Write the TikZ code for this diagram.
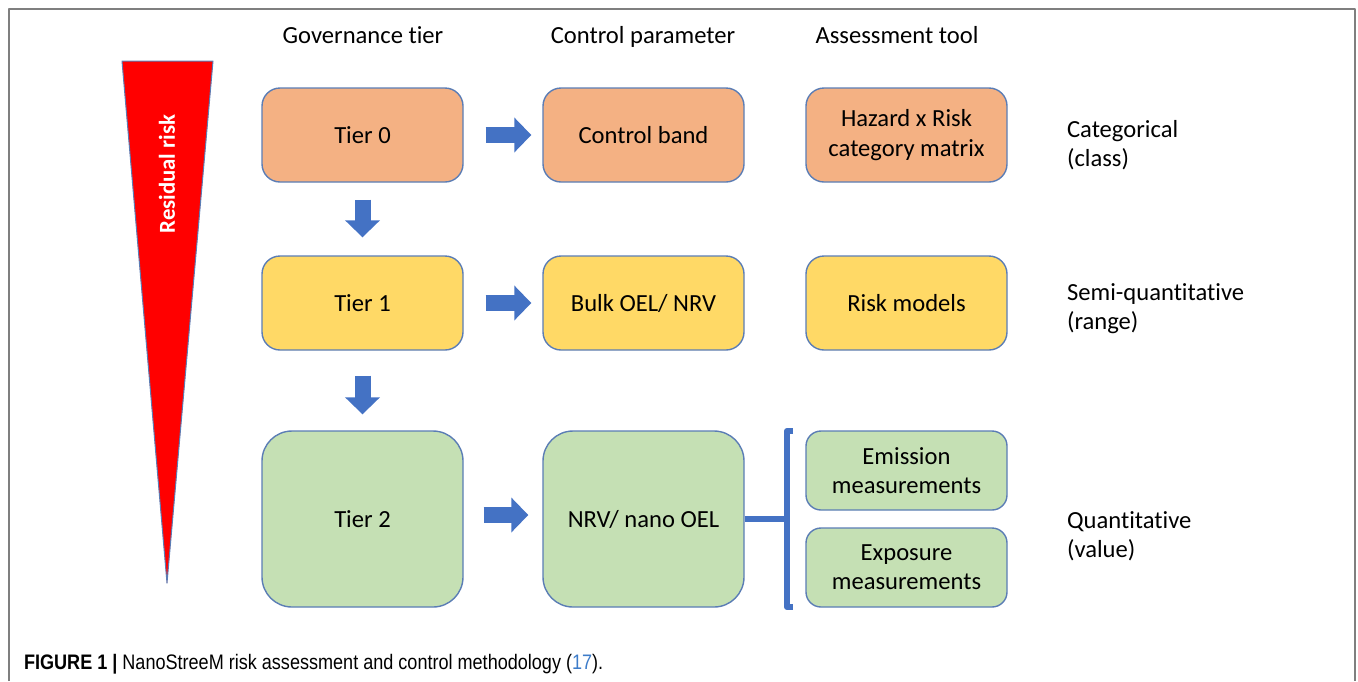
\documentclass[tikz,border=0pt]{standalone}
\usepackage{fontspec}
\setmainfont{Carlito}[Ligatures=NoCommon]
\newfontfamily\capfont[FakeStretch=0.86]{Liberation Sans}
\usetikzlibrary{arrows.meta}
\definecolor{arrowblue}{HTML}{4472C4}
\definecolor{edgeblue}{HTML}{5B7DB5}
\definecolor{tierorange}{HTML}{F4B183}
\definecolor{tieryellow}{HTML}{FFD966}
\definecolor{tiergreen}{HTML}{C5E0B4}
\definecolor{framegray}{HTML}{7F7F7F}
\definecolor{linkblue}{HTML}{3D7CC9}
\begin{document}
\begin{tikzpicture}[x=0.5pt,y=-0.5pt,line join=round,font=\fontsize{12.3}{14.6}\selectfont]
	\tikzset{tierbox/.style={draw=edgeblue,line width=0.7pt,rounded corners=9pt,minimum width=100.5pt,minimum height=47pt,align=center,inner sep=2pt},
		bigbox/.style={tierbox,rounded corners=15pt,minimum height=88pt},
		toolbox/.style={tierbox,rounded corners=7.5pt,minimum height=39.5pt},
		blockarrow/.style={arrowblue,line width=8pt,-{Triangle[width=17pt,length=8.5pt]}},
		sidelabel/.style={anchor=west,align=left}}
	\useasboundingbox (0,0) rectangle (1358,681);
	\draw[framegray,line width=1pt] (9,681)--(9,9)--(1355,9)--(1355,681);
	% residual risk wedge
	\draw[draw=edgeblue,fill=red,line width=0.5pt] (122,61)--(213,61)--(167,583)--cycle;
	\node[rotate=90,white,font=\fontsize{11.4}{13}\selectfont\bfseries] (rrisk) at (167,174) {Residual risk};
	% column heads
	\node[anchor=base] (hgov) at (363,43) {Governance tier};
	\node[anchor=base] (hctl) at (643,43) {Control parameter};
	\node[anchor=base] (htool) at (897,43) {Assessment tool};
	% tier 0
	\node[tierbox,fill=tierorange] (t0) at (362.5,135) {Tier 0};
	\node[tierbox,fill=tierorange] (cband) at (643.5,135) {Control band};
	\node[tierbox,fill=tierorange] (hazard) at (906.5,135) {Hazard x Risk\\category matrix};
	\node[sidelabel] (cat) at (1060,145) {Categorical\\(class)};
	% tier 1
	\node[tierbox,fill=tieryellow] (t1) at (362.5,303) {Tier 1};
	\node[tierbox,fill=tieryellow] (bulk) at (643.5,303) {Bulk OEL/ NRV};
	\node[tierbox,fill=tieryellow] (rmodel) at (906.5,303) {Risk models};
	\node[sidelabel] (semi) at (1060,309) {Semi-quantitative\\(range)};
	% tier 2
	\node[bigbox,fill=tiergreen] (t2) at (362.5,519) {Tier 2};
	\node[bigbox,fill=tiergreen] (nrv) at (643.5,519) {NRV/ nano OEL};
	\node[toolbox,fill=tiergreen] (emis) at (906.5,470.5) {Emission\\measurements};
	\node[toolbox,fill=tiergreen] (expo) at (906.5,567.5) {Exposure\\measurements};
	\node[sidelabel] (quant) at (1060,536) {Quantitative\\(value)};
	% arrows
	\draw[blockarrow,shorten <=11pt,shorten >=5.5pt] (t0)--(cband);
	\draw[blockarrow,shorten <=11pt,shorten >=5.5pt] (t1)--(bulk);
	\draw[blockarrow,shorten <=10pt,shorten >=7pt] ([yshift=2pt]t2.east)--([yshift=2pt]nrv.west);
	\draw[blockarrow,shorten <=8.5pt,shorten >=9pt] (t0)--(t1);
	\draw[blockarrow,shorten <=12.5pt,shorten >=8pt] (t1)--(t2);
	% bracket
	\coordinate (brk) at (787,519);
	\draw[arrowblue,line width=3pt] (nrv.east)--(brk);
	\draw[arrowblue,line width=3pt] (793,431)--(787,431)--(787,607)--(793,607);
	% caption
	\node[anchor=base west,font=\capfont\fontsize{10.5}{13}\selectfont] (caption) at (17,669) {\textbf{FIGURE 1 |} NanoStreeM risk assessment and control methodology (\textcolor{linkblue}{17}).};
\end{tikzpicture}
\end{document}
